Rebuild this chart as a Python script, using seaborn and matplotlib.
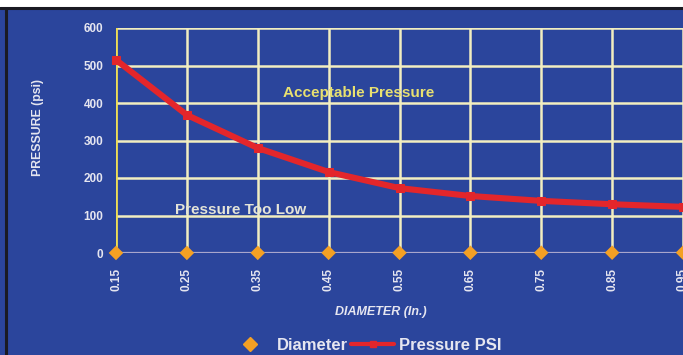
import matplotlib
matplotlib.use("Agg")
import matplotlib.pyplot as plt
from matplotlib.lines import Line2D
from matplotlib.patches import Rectangle
import pandas as pd
import seaborn as sns

# values
diameter = [0.15, 0.25, 0.35, 0.45, 0.55, 0.65, 0.75, 0.85, 0.95]
pressure_psi = [515, 368, 280, 216, 173, 152, 139, 130, 123]
y_ticks = [0, 100, 200, 300, 400, 500, 600]
x_labels = ["0.15", "0.25", "0.35", "0.45", "0.55", "0.65", "0.75", "0.85", "0.95"]

df = pd.DataFrame({"diameter": diameter, "pressure": pressure_psi})

BG = "#2b459c"
GRID = "#f2eec0"
TXT = "#e6e6f0"
RED = "#e3262b"
ORANGE = "#f4a024"

sns.set_style("dark")
plt.rcParams["font.family"] = ["Liberation Sans", "DejaVu Sans"]

fig = plt.figure(figsize=(6.83, 3.55), dpi=100, facecolor=BG)
# white strip and dark frame round the chart
fig.add_artist(Rectangle((0, 1 - 7 / 355), 1, 7 / 355, transform=fig.transFigure,
                         facecolor="white", edgecolor="none", zorder=-1))
fig.add_artist(Line2D([0, 1], [1 - 8 / 355] * 2, transform=fig.transFigure,
                      color="#1a1a22", lw=2.2))
fig.add_artist(Line2D([5.5 / 683] * 2, [0, 1 - 8 / 355], transform=fig.transFigure,
                      color="#1a1a22", lw=2.2))

ax = fig.add_axes([116 / 683, 1 - 253 / 355, 567 / 683, 225 / 355])
ax.set_facecolor(BG)

ax.set_xlim(0.15, 0.95)
ax.set_ylim(0, 600)

# grid lines
for y in y_ticks[1:]:
    ax.axhline(y, color=GRID, lw=1.8, zorder=1)
for x in diameter[1:]:
    ax.axvline(x, color=GRID, lw=1.8, zorder=1)
ax.axhline(0, color="#a9a6cc", lw=1.6, zorder=1)
ax.axvline(0.15, color="#eedd55", lw=2, zorder=1)

sns.lineplot(data=df, x="diameter", y="pressure", ax=ax, color=RED, lw=4.4,
             marker="s", markersize=6, markeredgecolor=RED, zorder=3,
             clip_on=False, label="Pressure PSI", legend=False)
sns.scatterplot(data=df, x="diameter", y="diameter", ax=ax, color=ORANGE,
                marker="D", s=55, edgecolor="none", zorder=4, clip_on=False,
                label="Diameter", legend=False)

for s in ax.spines.values():
    s.set_visible(False)

ax.set_xticks(diameter)
ax.set_xticklabels(x_labels, rotation=90, fontsize=8.5, fontweight="bold", color=TXT)
ax.set_yticks(y_ticks)
ax.set_yticklabels([str(v) for v in y_ticks], fontsize=8.5, fontweight="bold", color=TXT)
ax.tick_params(axis="both", length=0)
ax.tick_params(axis="x", pad=11)
ax.tick_params(axis="y", pad=9)

ax.set_xlabel("DIAMETER (In.)", fontsize=9, fontweight="bold", style="italic",
              color=TXT)
ax.xaxis.set_label_coords((381 - 116) / 567, -(306 - 253) / 225)
ax.set_ylabel("PRESSURE (psi)", fontsize=8.8, fontweight="bold", color=TXT)
ax.yaxis.set_label_coords(-(116 - 44) / 567, (253 - 128) / 225)

ax.text(0.493, 427, "Acceptable Pressure", fontsize=11, fontweight="bold",
        color="#e8e070", ha="center", va="center", zorder=5)
ax.text(0.326, 115, "Pressure Too Low", fontsize=11, fontweight="bold",
        color="#e4e4d8", ha="center", va="center", zorder=5)

handles = [
    Line2D([], [], color=ORANGE, marker="D", ls="none", markersize=7),
    Line2D([], [], color=RED, lw=3, marker="s", markersize=4),
]
fig.legend(handles, ["Diameter", "Pressure PSI"], loc="center",
           bbox_to_anchor=(365 / 683, 1 - 345 / 355), ncol=2, frameon=False,
           prop={"size": 12, "weight": "bold"}, labelcolor=TXT,
           handlelength=2.6, columnspacing=0.2, handletextpad=0.3)

fig.savefig("out.png", dpi=100, facecolor=BG)
